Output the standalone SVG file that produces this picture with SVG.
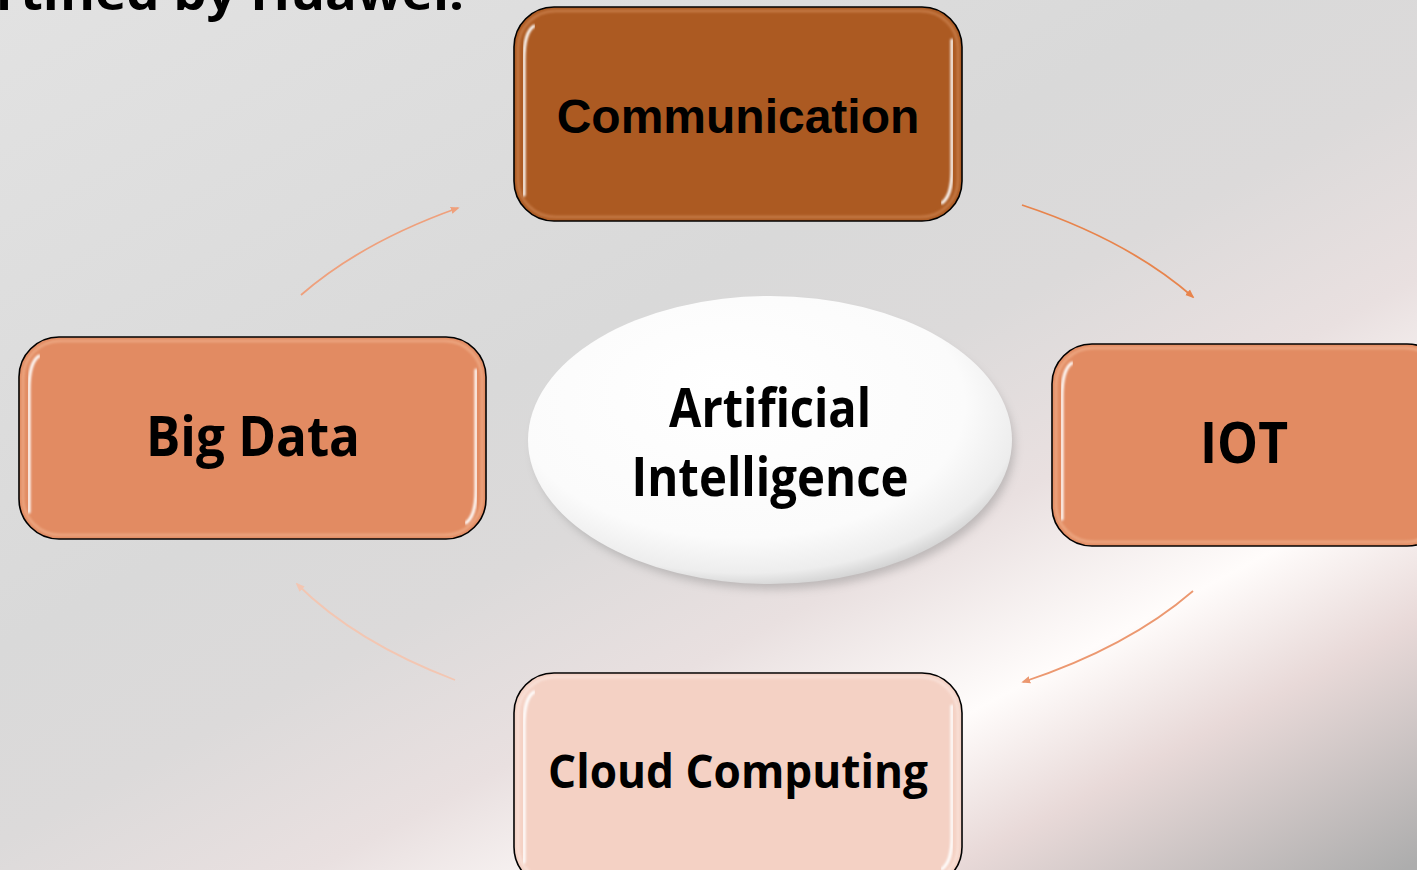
<svg xmlns="http://www.w3.org/2000/svg" width="1417" height="870" viewBox="0 0 1417 870">
<defs>
<style>
.box{stroke:#000;stroke-width:1.6}
.hl{fill:none;stroke:#fff;stroke-linecap:round}
.cal{font-family:"Open Sans","Liberation Sans",sans-serif;font-weight:700;fill:#000;text-anchor:middle}
.ari{font-family:"Liberation Sans",Arial,sans-serif;font-weight:700;fill:#000;text-anchor:middle}
.conn{fill:none;stroke-width:1.8}
</style>
<linearGradient id="bg" gradientUnits="userSpaceOnUse" x1="0" y1="0" x2="673" y2="1260">
<stop offset="0" stop-color="#E2E2E2"/>
<stop offset="0.4" stop-color="#D9D9D9"/>
<stop offset="0.52" stop-color="#DCDADA"/>
<stop offset="0.64" stop-color="#E9E0E0"/>
<stop offset="0.76" stop-color="#FFFCFB"/>
<stop offset="0.85" stop-color="#E8D9D8"/>
<stop offset="1" stop-color="#ADADAD"/>
</linearGradient>
<linearGradient id="hlv" x1="0" y1="0" x2="0" y2="1">
<stop offset="0" stop-color="#fff" stop-opacity="1"/>
<stop offset="0.35" stop-color="#fff" stop-opacity="0.55"/>
<stop offset="0.75" stop-color="#fff" stop-opacity="0.45"/>
<stop offset="1" stop-color="#fff" stop-opacity="0.9"/>
</linearGradient>
<radialGradient id="ell" cx="0.45" cy="0.4" r="0.62" fx="0.4" fy="0.3">
<stop offset="0" stop-color="#FFFFFF"/>
<stop offset="0.75" stop-color="#FBFBFB"/>
<stop offset="0.92" stop-color="#EDEDED"/>
<stop offset="1" stop-color="#CFCFCF"/>
</radialGradient>
<filter id="blur1" x="-10%" y="-10%" width="120%" height="120%"><feGaussianBlur stdDeviation="1"/></filter>
<filter id="shadow" x="-20%" y="-20%" width="140%" height="150%"><feGaussianBlur stdDeviation="5"/></filter>
<marker id="m1" viewBox="0 0 10 10" refX="8" refY="5" markerWidth="9" markerHeight="9" markerUnits="userSpaceOnUse" orient="auto"><path d="M0,1 L10,5 L0,9 z" fill="#EFA07C"/></marker>
<marker id="m2" viewBox="0 0 10 10" refX="8" refY="5" markerWidth="9" markerHeight="9" markerUnits="userSpaceOnUse" orient="auto"><path d="M0,1 L10,5 L0,9 z" fill="#E8844C"/></marker>
<marker id="m3" viewBox="0 0 10 10" refX="8" refY="5" markerWidth="9" markerHeight="9" markerUnits="userSpaceOnUse" orient="auto"><path d="M0,1 L10,5 L0,9 z" fill="#EC9870"/></marker>
<marker id="m4" viewBox="0 0 10 10" refX="8" refY="5" markerWidth="9" markerHeight="9" markerUnits="userSpaceOnUse" orient="auto"><path d="M0,1 L10,5 L0,9 z" fill="#F3C6B2"/></marker>
</defs>

<rect x="0" y="0" width="1417" height="870" fill="url(#bg)"/>

<text x="-4" y="10" class="cal" style="text-anchor:start" font-size="48" textLength="468" lengthAdjust="spacingAndGlyphs">rtified by Huawei.</text>

<g id="connectors">
<path class="conn" stroke="#EFA07C" marker-end="url(#m1)" d="M301,295 A520,282 0 0 1 458,208"/>
<path class="conn" stroke="#E8844C" marker-end="url(#m2)" d="M1022,205 A520,282 0 0 1 1193,297"/>
<path class="conn" stroke="#EC9870" marker-end="url(#m3)" d="M1193,591 A520,282 0 0 1 1023,682"/>
<path class="conn" stroke="#F3C6B2" marker-end="url(#m4)" d="M455,680 A520,282 0 0 1 297,584"/>
</g>

<g id="communication">
<rect class="box" x="514" y="7" width="448" height="214" rx="40" fill="#AC5A22"/>
<rect x="518" y="11" width="440" height="206" rx="37" fill="none" stroke="#D28A58" stroke-width="3" opacity="0.6" filter="url(#blur1)"/>
<path class="hl" stroke="url(#hlv)" stroke-width="3" filter="url(#blur1)" d="M534,26 Q524,32 524,60 L524,195"/>
<path class="hl" stroke="url(#hlv)" stroke-width="3" filter="url(#blur1)" d="M952,40 L952,170 Q952,196 942,203"/>
<text class="ari" x="738" y="133" font-size="48">Communication</text>
</g>

<g id="bigdata">
<rect class="box" x="19" y="337" width="467" height="202" rx="40" fill="#E28B62"/>
<rect x="23" y="341" width="459" height="194" rx="37" fill="none" stroke="#F2B592" stroke-width="3" opacity="0.6" filter="url(#blur1)"/>
<path class="hl" stroke="url(#hlv)" stroke-width="3" filter="url(#blur1)" d="M39,356 Q29,362 29,390 L29,512"/>
<path class="hl" stroke="url(#hlv)" stroke-width="3" filter="url(#blur1)" d="M476,370 L476,490 Q476,516 466,523"/>
<text class="cal" x="253" y="456" font-size="55" textLength="214" lengthAdjust="spacingAndGlyphs">Big Data</text>
</g>

<g id="iot">
<rect class="box" x="1052" y="344" width="395" height="202" rx="40" fill="#E28B62"/>
<rect x="1056" y="348" width="387" height="194" rx="37" fill="none" stroke="#F2B592" stroke-width="3" opacity="0.6" filter="url(#blur1)"/>
<path class="hl" stroke="url(#hlv)" stroke-width="3" filter="url(#blur1)" d="M1072,363 Q1062,369 1062,397 L1062,519"/>
<text class="cal" x="1244" y="463" font-size="57" textLength="88" lengthAdjust="spacingAndGlyphs">IOT</text>
</g>

<g id="cloud">
<rect class="box" x="514" y="673" width="448" height="214" rx="40" fill="#F4D1C4"/>
<rect x="518" y="677" width="440" height="206" rx="37" fill="none" stroke="#FBE6DE" stroke-width="3" opacity="0.7" filter="url(#blur1)"/>
<path class="hl" stroke="url(#hlv)" stroke-width="3" filter="url(#blur1)" d="M534,692 Q524,698 524,726 L524,862"/>
<path class="hl" stroke="url(#hlv)" stroke-width="3" filter="url(#blur1)" d="M952,706 L952,836 Q952,862 942,869"/>
<text class="cal" x="738" y="788" font-size="46" textLength="380" lengthAdjust="spacingAndGlyphs">Cloud Computing</text>
</g>

<g id="ai">
<ellipse cx="774" cy="447" rx="240" ry="142" fill="#7A7A7A" opacity="0.4" filter="url(#shadow)"/>
<ellipse cx="770" cy="440" rx="242" ry="144" fill="url(#ell)"/>
<text class="cal" x="770" y="427" font-size="53" textLength="202" lengthAdjust="spacingAndGlyphs">Artificial</text>
<text class="cal" x="770" y="496" font-size="53" textLength="277" lengthAdjust="spacingAndGlyphs">Intelligence</text>
</g>
</svg>
